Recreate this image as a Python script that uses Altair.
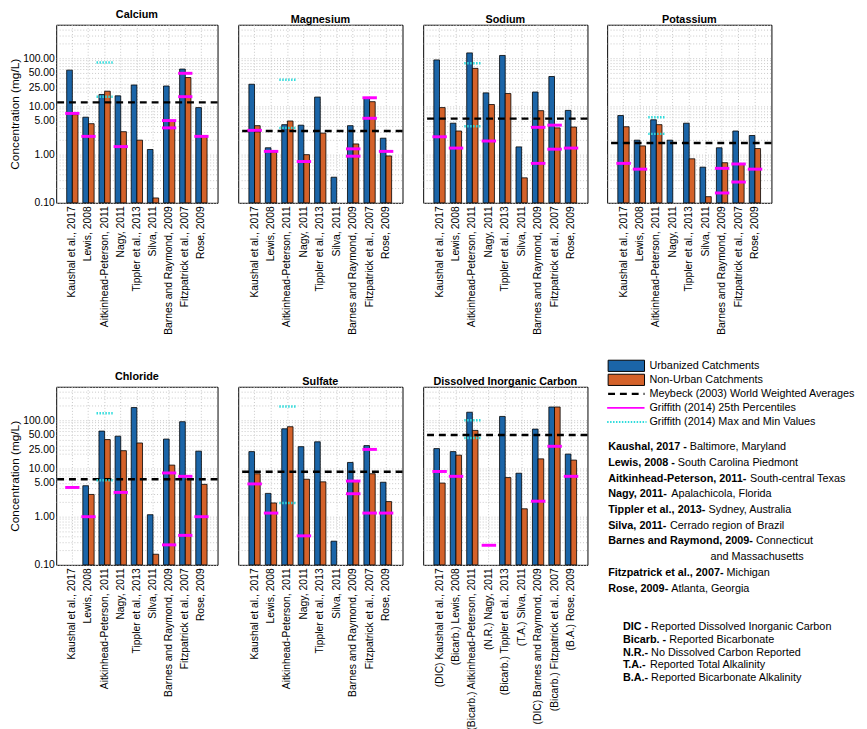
import altair as alt
import pandas as pd

FONT = "Liberation Sans"

studies = ["Kaushal et al., 2017", "Lewis, 2008", "Aitkinhead-Peterson, 2011", "Nagy, 2011",
           "Tippler et al., 2013", "Silva, 2011", "Barnes and Raymond, 2009",
           "Fitzpatrick et al., 2007", "Rose, 2009"]
dic_prefixes = ["(DIC)", "(Bicarb.)", "(Bicarb.)", "(N.R.)", "(Bicarb.)", "(T.A.)",
                "(DIC)", "(Bicarb.)", "(B.A.)"]
series = ["Urbanized Catchments", "Non-Urban Catchments"]
series_colors = ["#1b65a8", "#d4622a"]

# ---- data (mg/L) ----
calcium_urban = [57, 6.0, 17.8, 16.7, 28, 1.28, 26.7, 60, 9.5]
calcium_nonurban = [6.8, 4.4, 20.8, 3.0, 2.0, 0.126, 4.9, 40, 2.4]
calcium_p25 = [[7.2], [2.4], [], [1.47], [], [], [5.1, 3.6], [49, 16], [2.4]]
calcium_minmax = [[], [], [82, 16], [], [], [], [], [], []]
calcium_meybeck = 12.2

magnesium_urban = [29, 1.39, 4.2, 4.1, 15.7, 0.34, 4.0, 14.8, 2.2]
magnesium_nonurban = [4.0, 1.13, 5.0, 1.0, 2.8, None, 1.67, 12.6, 0.94]
magnesium_p25 = [[3.2], [1.17], [], [0.72], [], [], [1.32, 0.93], [15.2, 5.7], [1.17]]
magnesium_minmax = [[], [], [36, 3.6], [], [], [], [], [], []]
magnesium_meybeck = 3.1

sodium_urban = [93, 4.5, 130, 19.2, 115, 1.45, 20, 42, 8.3]
sodium_nonurban = [9.5, 3.1, 62, 11, 18.6, 0.33, 8.2, 3.6, 3.75]
sodium_p25 = [[2.35], [1.37], [], [1.92], [], [], [3.7, 0.66], [4.1, 1.3], [1.37]]
sodium_minmax = [[], [], [79, 3.9], [], [], [], [], [], []]
sodium_meybeck = 5.6

potassium_urban = [6.5, 2.0, 5.3, 2.0, 4.5, 0.55, 1.39, 3.1, 2.5]
potassium_nonurban = [3.8, 1.52, 4.2, None, 0.82, 0.134, 0.68, 0.64, 1.34]
potassium_p25 = [[0.66], [0.5], [], [], [], [], [0.52, 0.16], [0.64, 0.27], [0.5]]
potassium_minmax = [[], [], [6.0, 2.7], [], [], [], [], [], []]
potassium_meybeck = 1.75

chloride_urban = [None, 4.4, 60, 47, 185, 1.1, 41, 94, 23]
chloride_nonurban = [None, 2.9, 40, 23.5, 34, 0.166, 11.8, 6.1, 4.7]
chloride_p25 = [[4.05], [1.0], [], [3.2], [], [], [8.1, 0.26], [6.9, 0.41], [1.0]]
chloride_minmax = [[], [], [141, 5.7], [], [], [], [], [], []]
chloride_meybeck = 6.0

sulfate_urban = [22.5, 3.05, 67, 28.5, 36, 0.31, 13.4, 30, 5.2]
sulfate_nonurban = [7.8, 1.93, 74, 6.0, 5.3, None, 5.4, 7.8, 2.06]
sulfate_p25 = [[4.8], [1.19], [], [0.4], [], [], [5.5, 3.0], [25, 1.19], [1.19]]
sulfate_minmax = [[], [], [194, 1.93], [], [], [], [], [], []]
sulfate_meybeck = 8.6

dic_urban = [26, 22.5, 148, None, 121, 8.0, 66, 190, 20]
dic_nonurban = [5.0, 19, 62, None, 6.5, 1.46, 15.9, 190, 15]
dic_p25 = [[8.7], [6.9], [], [0.255], [], [], [2.1], [29], [6.9]]
dic_minmax = [[], [], [101, 43], [], [], [], [], [], []]
dic_meybeck = 50

key_labels = ["Urbanized Catchments", "Non-Urban Catchments",
              "Meybeck (2003) World Weighted Averages",
              "Griffith (2014) 25th Percentiles", "Griffith (2014) Max and Min Values"]
study_bold = ["Kaushal, 2017 -", "Lewis, 2008 -", "Aitkinhead-Peterson, 2011-", "Nagy, 2011-",
              "Tippler et al., 2013-", "Silva, 2011-", "Barnes and Raymond, 2009-", "",
              "Fitzpatrick et al., 2007-", "Rose, 2009-"]
study_regular = ["Baltimore, Maryland", "South Carolina Piedmont", "South-central Texas",
                 "Apalachicola, Florida", "Sydney, Australia", "Cerrado region of Brazil",
                 "Connecticut", "and Massachusetts", "Michigan", "Atlanta, Georgia"]
note_bold = ["DIC -", "Bicarb. -", "N.R.-", "T.A.-", "B.A.-"]
note_regular = ["Reported Dissolved Inorganic Carbon", "Reported Bicarbonate",
                "No Dissolved Carbon Reported", "Reported Total Alkalinity",
                "Reported Bicarbonate Alkalinity"]

# ---- layout helpers ----
PW, PH = 167, 181
PW_FIRST = 164
Y_DOMAIN = [0.1, 500]
tick_values = [m * 10.0 ** e for e in range(-1, 3) for m in range(1, 10)] + [25]
tick_values = sorted(v for v in tick_values if v <= 500)
label_expr = ("indexof([0.1, 1, 5, 10, 25, 50, 100], datum.value) >= 0 ? "
              "format(datum.value, '.2f') : ''")

BOLD_W = {' ': 278, '(': 333, ')': 333, ',': 278, '-': 333, '.': 278, '/': 278}
BOLD_W.update({d: 556 for d in "0123456789"})
BOLD_W.update(dict(zip("ABCDEFGHIJKLMNOPQRSTUVWXYZ",
                       [722, 722, 722, 722, 667, 611, 778, 722, 278, 556, 722, 611, 833,
                        722, 778, 667, 778, 722, 667, 611, 722, 667, 944, 667, 667, 611])))
BOLD_W.update(dict(zip("abcdefghijklmnopqrstuvwxyz",
                       [556, 611, 556, 611, 556, 333, 611, 611, 278, 278, 556, 278, 889,
                        611, 611, 611, 611, 389, 556, 333, 611, 556, 778, 556, 556, 500])))


def bold_width(s, size=11):
    return sum(BOLD_W.get(c, 556) for c in s) * size / 1000.0


def panel(name, labels, urban, nonurban, p25, minmax, meybeck, first):
    rows = []
    for lab, u, n in zip(labels, urban, nonurban):
        if u is not None:
            rows.append({"label": lab, "series": series[0], "value": u})
        if n is not None:
            rows.append({"label": lab, "series": series[1], "value": n})
    bars_df = pd.DataFrame(rows)
    p25_df = pd.DataFrame([{"label": lab, "value": v} for lab, vs in zip(labels, p25) for v in vs])
    mm_df = pd.DataFrame([{"label": lab, "value": v} for lab, vs in zip(labels, minmax) for v in vs])
    mey_df = pd.DataFrame({"value": [meybeck]})

    xscale = alt.Scale(domain=labels, paddingInner=0.3, paddingOuter=0.65)
    xaxis = alt.Axis(labelAngle=270, labelFontSize=10.5, labelPadding=3, labelLimit=300,
                     grid=True, gridDash=[1, 2], gridColor="#c8c8c8", tickBand="center",
                     ticks=False, domain=False, title=None)
    yscale = alt.Scale(type="log", domain=Y_DOMAIN, nice=False, clamp=True)
    if first:
        yaxis = alt.Axis(values=tick_values, labelExpr=label_expr, labelOverlap=False,
                         labelFontSize=10.5, labelPadding=2, ticks=False, domain=False,
                         grid=True, gridDash=[1, 2], gridColor="#c8c8c8",
                         title="Concentration (mg/L)", titleFontSize=12,
                         titleFontWeight="normal", titlePadding=1)
    else:
        yaxis = alt.Axis(values=tick_values, labels=False, ticks=False, domain=False,
                         grid=True, gridDash=[1, 2], gridColor="#c8c8c8", title=None)

    bars = alt.Chart(bars_df).mark_bar(stroke="black", strokeWidth=0.8).encode(
        x=alt.X("label:N", scale=xscale, axis=xaxis),
        xOffset=alt.XOffset("series:N", scale=alt.Scale(domain=series, paddingInner=0, paddingOuter=0)),
        y=alt.Y("value:Q", scale=yscale, axis=yaxis),
        color=alt.Color("series:N", scale=alt.Scale(domain=series, range=series_colors), legend=None),
    )
    mey = alt.Chart(mey_df).mark_rule(color="black", strokeDash=[7, 5], strokeWidth=2.5).encode(
        y=alt.Y("value:Q"))
    p25_layer = alt.Chart(p25_df).mark_rule(color="#ff00ff", strokeWidth=3, xOffset=-1.5,
                                            x2Offset=1.5).encode(
        x=alt.X("label:N", bandPosition=0), x2=alt.X2("label", bandPosition=1), y="value:Q")
    mm_layer = alt.Chart(mm_df).mark_rule(color="#2fdcdc", strokeWidth=2.5, strokeDash=[1.5, 1.5],
                                          xOffset=-2.5, x2Offset=2.5).encode(
        x=alt.X("label:N", bandPosition=0), x2=alt.X2("label", bandPosition=1), y="value:Q")
    return alt.layer(bars, mey, p25_layer, mm_layer).properties(
        width=PW_FIRST if first else PW, height=PH,
        title=alt.TitleParams(name, fontSize=11, fontWeight="bold", offset=0, frame="group"),
        view=alt.ViewBackground(stroke="black", strokeWidth=1),
    )


dic_labels = [p + " " + s for p, s in zip(dic_prefixes, studies)]

ca = panel("Calcium", studies, calcium_urban, calcium_nonurban, calcium_p25, calcium_minmax, calcium_meybeck, True)
mg = panel("Magnesium", studies, magnesium_urban, magnesium_nonurban, magnesium_p25, magnesium_minmax, magnesium_meybeck, False)
na = panel("Sodium", studies, sodium_urban, sodium_nonurban, sodium_p25, sodium_minmax, sodium_meybeck, False)
k = panel("Potassium", studies, potassium_urban, potassium_nonurban, potassium_p25, potassium_minmax, potassium_meybeck, False)
cl = panel("Chloride", studies, chloride_urban, chloride_nonurban, chloride_p25, chloride_minmax, chloride_meybeck, True)
so4 = panel("Sulfate", studies, sulfate_urban, sulfate_nonurban, sulfate_p25, sulfate_minmax, sulfate_meybeck, False)
dic = panel("Dissolved Inorganic Carbon", dic_labels, dic_urban, dic_nonurban, dic_p25, dic_minmax, dic_meybeck, False)

# ---- legend keys ----
LW = 255
key_df = pd.DataFrame({"label": key_labels})
key_y = alt.Y("label:N", scale=alt.Scale(type="band", domain=key_labels, paddingInner=0.2, paddingOuter=0), axis=None)
key_yc = alt.Y("label:N", bandPosition=0.5, axis=None)
swatch = alt.Chart(key_df).mark_rect(stroke="black", strokeWidth=1).encode(
    x=alt.value(1), x2=alt.value(38), y=key_y,
    color=alt.Color("label:N", scale=alt.Scale(domain=series, range=series_colors), legend=None),
).transform_filter(alt.FieldOneOfPredicate(field="label", oneOf=series))
k_mey = alt.Chart(key_df).mark_rule(color="black", strokeDash=[7, 5], strokeWidth=2.5).encode(
    x=alt.value(1), x2=alt.value(38), y=key_yc).transform_filter(alt.datum.label == key_labels[2])
k_p25 = alt.Chart(key_df).mark_rule(color="#ff00ff", strokeWidth=2).encode(
    x=alt.value(0), x2=alt.value(38), y=key_yc).transform_filter(alt.datum.label == key_labels[3])
k_mm = alt.Chart(key_df).mark_rule(color="#2fdcdc", strokeWidth=2, strokeDash=[1.5, 1.5]).encode(
    x=alt.value(0), x2=alt.value(40), y=key_yc).transform_filter(alt.datum.label == key_labels[4])
k_text = alt.Chart(key_df).mark_text(align="left", baseline="middle", fontSize=11, font=FONT,
                                     color="black").encode(
    x=alt.value(43), y=key_yc, text="label:N")
keys = alt.layer(swatch, k_mey, k_p25, k_mm, k_text).properties(width=LW, height=68.4)

# ---- study locations ----
CONT_INDENT = 105
srows = []
for i, (b, r) in enumerate(zip(study_bold, study_regular)):
    xr = 1 + bold_width(b) + 3 if b else CONT_INDENT
    srows.append({"row": i, "bold": b, "regular": r, "xb": 1, "xr": xr})
s_df = pd.DataFrame(srows)
s_y = alt.Y("row:O", scale=alt.Scale(type="point", padding=0.5), axis=None)
s_bold = alt.Chart(s_df).mark_text(align="left", baseline="middle", fontSize=11, fontWeight="bold",
                                   font=FONT, color="black").encode(
    x=alt.X("xb:Q", scale=None, axis=None), y=s_y, text="bold:N")
s_reg = alt.Chart(s_df).mark_text(align="left", baseline="middle", fontSize=11, font=FONT,
                                  color="black").encode(
    x=alt.X("xr:Q", scale=None, axis=None), y=s_y, text="regular:N")
study_chart = alt.layer(s_bold, s_reg).properties(width=LW, height=160)

# ---- abbreviation notes ----
nrows = []
for i, (b, r) in enumerate(zip(note_bold, note_regular)):
    nrows.append({"row": i, "bold": b, "regular": r, "xb": 16, "xr": 16 + bold_width(b) + 3})
n_df = pd.DataFrame(nrows)
n_y = alt.Y("row:O", scale=alt.Scale(type="point", padding=0.5), axis=None)
n_bold = alt.Chart(n_df).mark_text(align="left", baseline="middle", fontSize=11, fontWeight="bold",
                                   font=FONT, color="black").encode(
    x=alt.X("xb:Q", scale=None, axis=None), y=n_y, text="bold:N")
n_reg = alt.Chart(n_df).mark_text(align="left", baseline="middle", fontSize=11, font=FONT,
                                  color="black").encode(
    x=alt.X("xr:Q", scale=None, axis=None), y=n_y, text="regular:N")
notes_chart = alt.layer(n_bold, n_reg).properties(width=LW, height=65)

legend_col = alt.vconcat(keys, alt.vconcat(study_chart, notes_chart, spacing=22.5), spacing=10.3)

left = alt.vconcat(alt.hconcat(ca, mg, na, spacing=17), alt.hconcat(cl, so4, dic, spacing=17), spacing=35)
right = alt.vconcat(k, legend_col, spacing=24)

chart = alt.hconcat(left, right, spacing=16).properties(
    padding={"top": -6, "left": 0, "right": 0, "bottom": 0}
).configure_view(
    stroke="transparent"
).configure_axis(
    labelFont=FONT, titleFont=FONT, labelColor="black", titleColor="black"
).configure_title(font=FONT, color="black")

chart.save("out.html", embed_options={"renderer": "svg", "actions": False})
